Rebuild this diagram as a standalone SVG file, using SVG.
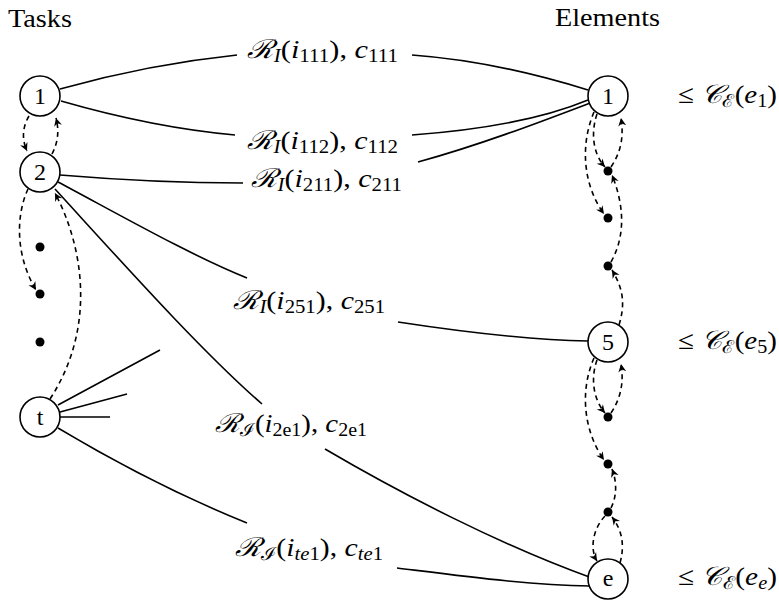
<svg xmlns="http://www.w3.org/2000/svg" width="779" height="607" viewBox="0 0 779 607">
<defs>
<style>
.node{fill:#fff;stroke:#000;stroke-width:1.6}
.dot{fill:#000}
.t{font-size:25px;fill:#000}
.nl{font-size:24px;fill:#000;text-anchor:middle}
.m{font-size:26px;fill:#000}
.i{font-style:italic}
.s{font-size:18px}
.e{fill:none;stroke:#000;stroke-width:1.6}
.d{fill:none;stroke:#000;stroke-width:1.6;stroke-dasharray:5 4;marker-end:url(#ah)}
</style>
<marker id="ah" viewBox="-9 -5 10 10" refX="0" refY="0" markerWidth="10" markerHeight="10" markerUnits="userSpaceOnUse" orient="auto">
<path d="M0,0 L-8,-4 L-5.5,0 L-8,4 Z" fill="#000"/>
</marker>
</defs>
<rect width="779" height="607" fill="#fff"/>

<g font-family="Liberation Serif, DejaVu Serif, serif">
<text class="t" x="8" y="27" textLength="64" lengthAdjust="spacingAndGlyphs">Tasks</text>
<text class="t" x="555" y="26" textLength="105" lengthAdjust="spacingAndGlyphs">Elements</text>
</g>

<g id="connectors">
<path class="e" d="M60 89 C110 75 170 62 237 55 M412 55 C480 60 540 75 588 90"/>
<path class="e" d="M61 101 C120 118 180 130 235 135 M412 135 C480 130 540 120 588 100"/>
<path class="e" d="M60 175 C120 180 180 183 243 183 M418 162 C480 145 540 122 590 103"/>
<path class="e" d="M58 182 C120 215 190 255 247 278 M398 322 C470 333 530 340 588 341"/>
<path class="e" d="M55 189 C120 260 200 350 262 404 M325 449 C400 493 500 545 592 578"/>
<path class="e" d="M58 428 C120 465 190 500 247 523 M397 568 C470 577 530 585 590 586"/>
<path class="e" d="M58 405 L160 350 M60 412 L127 394 M60 417 L110 417"/>
<path class="d" d="M29 116 Q19 133 27 151"/>
<path class="d" d="M52 154 Q61 137 56 118"/>
<path class="d" d="M28 189 C16 215 15 255 36 290"/>
<path class="d" d="M50 399 C95 330 85 250 55 193"/>
<path class="d" d="M597 114 C590 135 594 155 605 167"/>
<path class="d" d="M594 112 C580 145 583 185 604 214"/>
<path class="d" d="M611 167 C621 152 624 137 621 118"/>
<path class="d" d="M611 262 C626 235 624 205 612 175"/>
<path class="d" d="M619 325 C625 305 624 290 612 270"/>
<path class="d" d="M597 360 C590 380 594 400 605 413"/>
<path class="d" d="M594 358 C580 390 583 430 604 460"/>
<path class="d" d="M611 413 C621 398 624 382 621 364"/>
<path class="d" d="M611 508 C617 496 617 482 612 469"/>
<path class="d" d="M605 516 C592 530 590 550 597 561"/>
<path class="d" d="M620 563 C625 545 622 530 612 517"/>
</g>

<g id="edge-labels" font-family="Liberation Serif, DejaVu Serif, serif">
<text class="m" x="247" y="58" textLength="151" lengthAdjust="spacingAndGlyphs"><tspan class="i">ℛ</tspan><tspan class="s i" dy="4">I</tspan><tspan dy="-4">(</tspan><tspan class="i">i</tspan><tspan class="s" dy="4">111</tspan><tspan dy="-4">), </tspan><tspan class="i">c</tspan><tspan class="s" dy="4">111</tspan></text>
<text class="m" x="247" y="149" textLength="151" lengthAdjust="spacingAndGlyphs"><tspan class="i">ℛ</tspan><tspan class="s i" dy="4">I</tspan><tspan dy="-4">(</tspan><tspan class="i">i</tspan><tspan class="s" dy="4">112</tspan><tspan dy="-4">), </tspan><tspan class="i">c</tspan><tspan class="s" dy="4">112</tspan></text>
<text class="m" x="251" y="187" textLength="151" lengthAdjust="spacingAndGlyphs"><tspan class="i">ℛ</tspan><tspan class="s i" dy="4">I</tspan><tspan dy="-4">(</tspan><tspan class="i">i</tspan><tspan class="s" dy="4">211</tspan><tspan dy="-4">), </tspan><tspan class="i">c</tspan><tspan class="s" dy="4">211</tspan></text>
<text class="m" x="233" y="309" textLength="152" lengthAdjust="spacingAndGlyphs"><tspan class="i">ℛ</tspan><tspan class="s i" dy="4">I</tspan><tspan dy="-4">(</tspan><tspan class="i">i</tspan><tspan class="s" dy="4">251</tspan><tspan dy="-4">), </tspan><tspan class="i">c</tspan><tspan class="s" dy="4">251</tspan></text>
<text class="m" x="215" y="432" textLength="152" lengthAdjust="spacingAndGlyphs"><tspan class="i">ℛ</tspan><tspan class="s" dy="4">ℐ</tspan><tspan dy="-4">(</tspan><tspan class="i">i</tspan><tspan class="s" dy="4">2e1</tspan><tspan dy="-4">), </tspan><tspan class="i">c</tspan><tspan class="s" dy="4">2e1</tspan></text>
<text class="m" x="235" y="556" textLength="148" lengthAdjust="spacingAndGlyphs"><tspan class="i">ℛ</tspan><tspan class="s" dy="4">ℐ</tspan><tspan dy="-4">(</tspan><tspan class="i">i</tspan><tspan class="s i" dy="4">te</tspan><tspan class="s">1</tspan><tspan dy="-4">), </tspan><tspan class="i">c</tspan><tspan class="s i" dy="4">te</tspan><tspan class="s">1</tspan></text>
</g>

<g font-family="Liberation Serif, DejaVu Serif, serif">
<g id="task-1"><circle class="node" cx="40" cy="96" r="20"/><text class="nl" x="40" y="104">1</text></g>
<g id="task-2"><circle class="node" cx="40" cy="172" r="20"/><text class="nl" x="40" y="180">2</text></g>
<g id="task-dot-1"><circle class="dot" cx="40" cy="247" r="4.5"/></g>
<g id="task-dot-2"><circle class="dot" cx="40" cy="294" r="4.5"/></g>
<g id="task-dot-3"><circle class="dot" cx="40" cy="342" r="4.5"/></g>
<g id="task-t"><circle class="node" cx="40" cy="417" r="20"/><text class="nl" x="40" y="425">t</text></g>

<g id="elem-1"><circle class="node" cx="608" cy="96" r="20"/><text class="nl" x="608" y="104">1</text></g>
<g id="elem-dot-1"><circle class="dot" cx="608" cy="171" r="4.5"/></g>
<g id="elem-dot-2"><circle class="dot" cx="608" cy="218" r="4.5"/></g>
<g id="elem-dot-3"><circle class="dot" cx="608" cy="266" r="4.5"/></g>
<g id="elem-5"><circle class="node" cx="608" cy="342" r="20"/><text class="nl" x="608" y="350">5</text></g>
<g id="elem-dot-4"><circle class="dot" cx="608" cy="417" r="4.5"/></g>
<g id="elem-dot-5"><circle class="dot" cx="608" cy="464" r="4.5"/></g>
<g id="elem-dot-6"><circle class="dot" cx="608" cy="512" r="4.5"/></g>
<g id="elem-e"><circle class="node" cx="608" cy="579" r="20"/><text class="nl" x="608" y="586">e</text></g>
</g>

<g id="capacity-labels" font-family="Liberation Serif, DejaVu Serif, serif">
<text class="m" x="678" y="103" textLength="99" lengthAdjust="spacingAndGlyphs">≤ <tspan class="i">𝒞</tspan><tspan class="s" dy="4">ℰ</tspan><tspan dy="-4">(</tspan><tspan class="i">e</tspan><tspan class="s" dy="4">1</tspan><tspan dy="-4">)</tspan></text>
<text class="m" x="678" y="349" textLength="99" lengthAdjust="spacingAndGlyphs">≤ <tspan class="i">𝒞</tspan><tspan class="s" dy="4">ℰ</tspan><tspan dy="-4">(</tspan><tspan class="i">e</tspan><tspan class="s" dy="4">5</tspan><tspan dy="-4">)</tspan></text>
<text class="m" x="678" y="585" textLength="99" lengthAdjust="spacingAndGlyphs">≤ <tspan class="i">𝒞</tspan><tspan class="s" dy="4">ℰ</tspan><tspan dy="-4">(</tspan><tspan class="i">e</tspan><tspan class="s i" dy="4">e</tspan><tspan dy="-4">)</tspan></text>
</g>
</svg>
